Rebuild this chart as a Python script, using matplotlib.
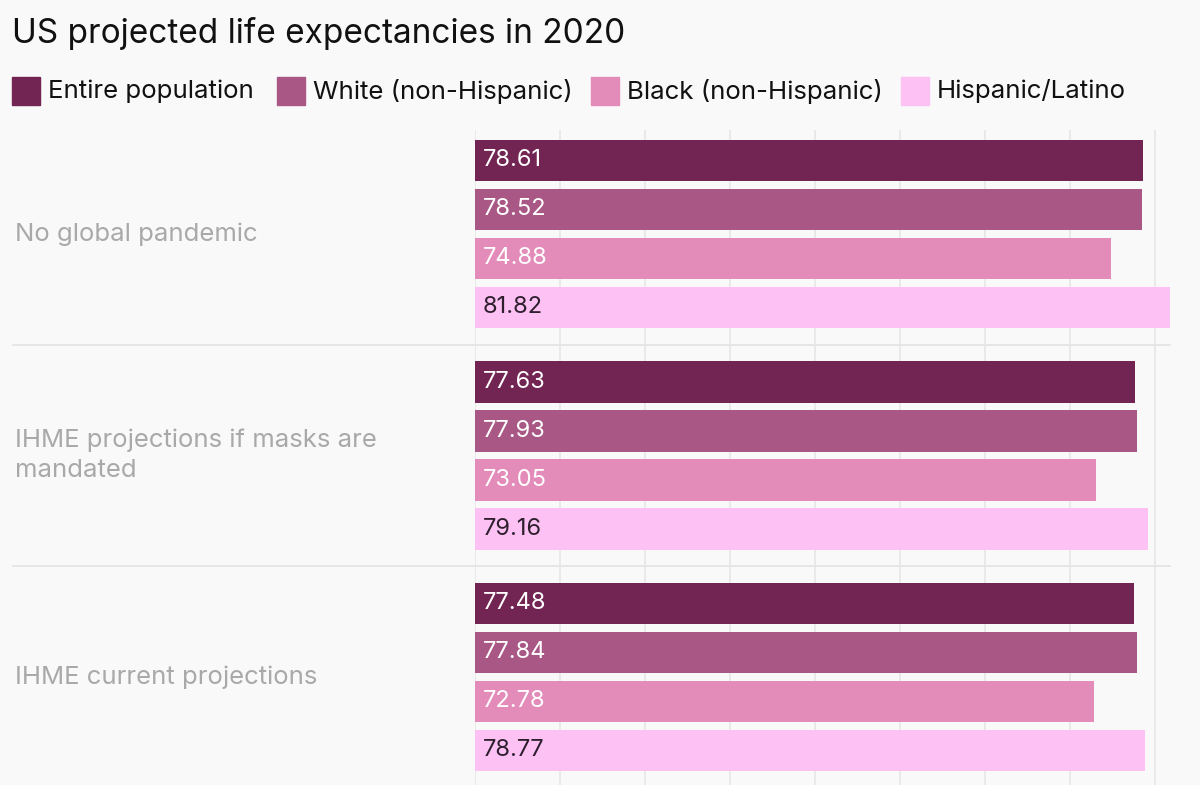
import numpy as np
import matplotlib.pyplot as plt
from matplotlib.patches import Rectangle
from matplotlib.transforms import blended_transform_factory

scenarios = ['No global pandemic',
             'IHME projections if masks are\nmandated',
             'IHME current projections']
groups = ['Entire population', 'White (non-Hispanic)',
          'Black (non-Hispanic)', 'Hispanic/Latino']
entire = [78.61, 77.63, 77.48]
white = [78.52, 77.93, 77.84]
black = [74.88, 73.05, 72.78]
hispanic = [81.82, 79.16, 78.77]

colors = ['#722453', '#a95886', '#e38bb9', '#fdc1f4']
label_colors = ['white', 'white', 'white', '#2e1f2e']
bg = '#f9f9f9'

plt.rcParams['font.family'] = ['Inter', 'DejaVu Sans']

fig = plt.figure(figsize=(12, 7.85), dpi=100, facecolor=bg)
W, H = 1200, 785
ax = fig.add_axes([475 / W, 0, (W - 475) / W, (H - 130) / H])
ax.set_facecolor(bg)

series = [entire, white, black, hispanic]
group_pitch = 4.52
bar_h = 0.84

for j, vals in enumerate(series):
    ys = np.arange(len(scenarios)) * group_pitch + j
    ax.barh(ys, vals, height=bar_h, color=colors[j], zorder=2)
    for y, v in zip(ys, vals):
        ax.text(0.95, y, f'{v:.2f}', color=label_colors[j], fontsize=17,
                va='center', ha='left', zorder=3)

ax.set_xlim(0, 725 / 8.5)
ax.set_ylim(12.745, -0.622)
ax.set_xticks(np.arange(0, 81, 10))
ax.set_yticks([])
ax.tick_params(axis='x', length=0, labelbottom=False)
ax.grid(axis='x', color='#e6e6e6', lw=1.2, zorder=0)
for s in ax.spines.values():
    s.set_visible(False)

# separators between scenario groups
for i in range(len(scenarios) - 1):
    ysep = i * group_pitch + 3 + (group_pitch - 3) / 2
    ax.axhline(ysep, xmin=(13 - 475) / 725, xmax=(1170 - 475) / 725,
               color='#e3e3e3', lw=1.2, clip_on=False, zorder=1)

trans = blended_transform_factory(fig.transFigure, ax.transData)
for i, name in enumerate(scenarios):
    ax.text(15 / W, i * group_pitch + 1.5, name, transform=trans,
            color='#a9a9a9', fontsize=18.5, va='center', ha='left',
            linespacing=1.42)

fig.text(12 / W, 1 - 33 / H, 'US projected life expectancies in 2020',
         fontsize=24, color='#111111', va='center', ha='left')

leg_x = [12, 277, 591, 901]
for x, name, c in zip(leg_x, groups, colors):
    fig.patches.append(Rectangle((x / W, 1 - 105 / H), 28 / W, 28 / H,
                                 transform=fig.transFigure, color=c))
    fig.text((x + 36) / W, 1 - 91 / H, name, fontsize=18.6,
             color='#111111', va='center', ha='left')

fig.savefig('out.png', dpi=100, facecolor=bg)
